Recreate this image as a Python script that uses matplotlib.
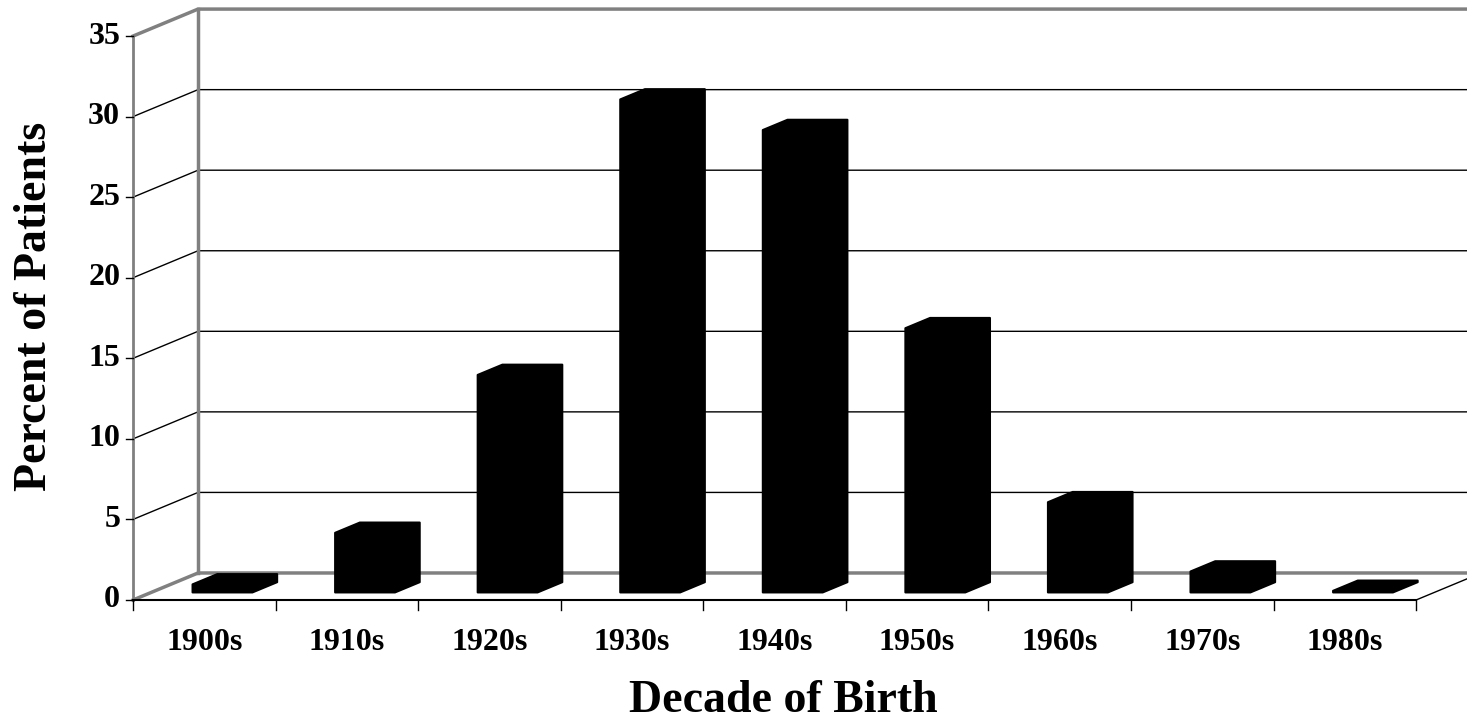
import numpy as np
import matplotlib.pyplot as plt

decades = ['1900s', '1910s', '1920s', '1930s', '1940s', '1950s', '1960s', '1970s', '1980s']
percent = [0.5, 3.7, 13.5, 30.6, 28.7, 16.4, 5.6, 1.3, 0.1]
y_ticks = [0, 5, 10, 15, 20, 25, 30, 35]

plt.rcParams['font.family'] = ['Liberation Serif', 'DejaVu Serif']
plt.rcParams['font.weight'] = 'bold'

fig = plt.figure(figsize=(14.67, 7.23), dpi=100)
ax = fig.add_axes([0, 0, 1, 1])
ax.set_xlim(-1.433, 8.857)
ax.set_ylim(-7.635, 37.24)
ax.axis('off')

# fake 3d: depth offset of the back wall in data units
dx, dy = 0.456, 1.676
n = len(decades)
left, right = -0.5, n - 0.5
top = y_ticks[-1]

# back wall gridlines
for v in y_ticks[1:-1]:
    ax.plot([left, left + dx, right + dx], [v, v + dy, v + dy], color='black', lw=1)

# floor, top and wall edges
ax.plot([left, left + dx, right + dx], [0, dy, dy], color='#808080', lw=2.5)
ax.plot([right, right + dx], [0, dy], color='black', lw=1)
ax.plot([left, left + dx, right + dx], [top, top + dy, top + dy], color='#808080', lw=2.5)
ax.plot([left + dx, left + dx], [dy, top + dy], color='#808080', lw=2.5)
ax.plot([left, left], [0, top], color='#808080', lw=2)
ax.plot([left, right], [0, 0], color='black', lw=1.5)

# ticks
for b in np.arange(n + 1) - 0.5:
    ax.plot([b, b], [0, -0.65], color='black', lw=1)
for v in y_ticks:
    ax.plot([left - 0.05, left], [v, v], color='black', lw=1)
    ax.text(left - 0.09, v, str(v), ha='right', va='center', fontsize=23)

for i, d in enumerate(decades):
    ax.text(i, -3.1, d, ha='center', va='baseline', fontsize=23)

ax.text((left + right) / 2 + 0.06, -6.95, 'Decade of Birth', ha='center', va='baseline', fontsize=33)
ax.text(-1.19, 18.2, 'Percent of Patients', ha='center', va='center', rotation=90, fontsize=33)

# bars
f0, f1, w = 0.28, 0.66, 0.42
for i, v in enumerate(percent):
    xa, xb = i - w / 2, i + w / 2
    xs = [xa + f0 * dx, xa + f0 * dx, xa + f1 * dx, xb + f1 * dx, xb + f1 * dx, xb + f0 * dx]
    ys = [f0 * dy, v + f0 * dy, v + f1 * dy, v + f1 * dy, f1 * dy, f0 * dy]
    ax.fill(xs, ys, facecolor='black', edgecolor='black', lw=1.5, joinstyle='round', zorder=3)

fig.savefig('out.png', dpi=100)
